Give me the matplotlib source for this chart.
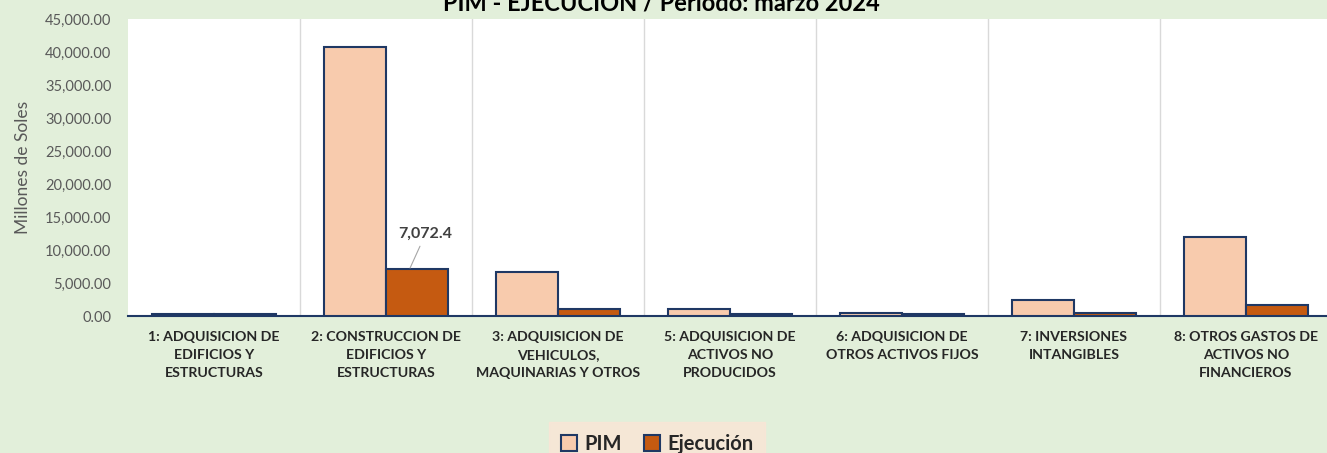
import matplotlib.pyplot as plt
import numpy as np
from matplotlib.patches import Patch

categories = [
    "1: ADQUISICION DE\nEDIFICIOS Y\nESTRUCTURAS",
    "2: CONSTRUCCION DE\nEDIFICIOS Y\nESTRUCTURAS",
    "3: ADQUISICION DE\nVEHICULOS,\nMAQUINARIAS Y OTROS",
    "5: ADQUISICION DE\nACTIVOS NO\nPRODUCIDOS",
    "6: ADQUISICION DE\nOTROS ACTIVOS FIJOS",
    "7: INVERSIONES\nINTANGIBLES",
    "8: OTROS GASTOS DE\nACTIVOS NO\nFINANCIEROS",
]
pim = [350, 40750, 6650, 1100, 450, 2380, 11970]
ejecucion = [300, 7072.4, 1000, 250, 250, 450, 1620]
yticks = [0, 5000, 10000, 15000, 20000, 25000, 30000, 35000, 40000, 45000]

BG = "#E2EFDA"
EDGE = "#1F3864"
plt.rcParams['font.family'] = ['Lato', 'DejaVu Sans']

fig = plt.figure(figsize=(13.27, 4.53), dpi=100, facecolor=BG)
ax = fig.add_axes([128 / 1327, 1 - 316 / 453, 1204 / 1327, 297 / 453])
ax.set_facecolor("white")

x = np.arange(len(categories))
w = 0.36
ax.bar(x - w / 2, pim, w, color="#F8CBAD", edgecolor=EDGE, linewidth=1.5, label="PIM", zorder=3)
ax.bar(x + w / 2, ejecucion, w, color="#C55A11", edgecolor=EDGE, linewidth=1.5, label="Ejecución", zorder=3)

ax.set_xlim(-0.5, len(categories) - 0.5)
ax.set_ylim(0, 45000)
ax.set_yticks(yticks)
ax.set_yticklabels([f"{v:,.2f}" for v in yticks], color="#595959", fontsize=10.5)
ax.set_xticks(x)
ax.set_xticklabels(categories, fontsize=10.2, fontweight="bold", color="#262626", linespacing=1.6)
ax.tick_params(axis="y", length=0, pad=12)
ax.tick_params(axis="x", length=0, pad=11)

# vertical separators between categories
for b in np.arange(0.5, len(categories) - 0.5, 1):
    ax.axvline(b, color="#D9D9D9", linewidth=1, zorder=1)

for s in ["top", "right", "left"]:
    ax.spines[s].set_visible(False)
ax.spines["bottom"].set_color(EDGE)
ax.spines["bottom"].set_linewidth(1.5)

ax.set_ylabel("Millones de Soles", color="#595959", fontsize=12.5, labelpad=10)

# data label for execution of category 2
ax.annotate(f"{ejecucion[1]:,.1f}", xy=(x[1] + w / 2 - 0.04, ejecucion[1] + 200),
            xytext=(x[1] + w / 2 + 0.05, ejecucion[1] + 4300),
            fontsize=11.5, fontweight="bold", color="#404040", ha="center", va="bottom",
            arrowprops=dict(arrowstyle="-", color="#A6A6A6", lw=0.8, shrinkA=2, shrinkB=0))

# title sits partly above the canvas, as in the source image
fig.text(661 / 1327, 1 - 11 / 453, "PIM - EJECUCIÓN / Periodo: marzo 2024", ha="center", va="baseline",
         fontsize=17, fontweight="bold", color="#000000")

handles = [Patch(facecolor="#F8CBAD", edgecolor=EDGE, linewidth=1.5, label="PIM"),
           Patch(facecolor="#C55A11", edgecolor=EDGE, linewidth=1.5, label="Ejecución")]
leg = fig.legend(handles=handles, loc="upper center", bbox_to_anchor=(657 / 1327, 1 - 422 / 453), ncol=2,
                 frameon=True, fancybox=False, handlelength=0.8, handleheight=0.8,
                 handletextpad=0.35, columnspacing=1.1, borderpad=0.6, borderaxespad=0,
                 prop={"weight": "bold", "size": 14.5})
leg.get_frame().set_facecolor("#FBE5D6")
leg.get_frame().set_edgecolor("#FBE5D6")
for t in leg.get_texts():
    t.set_color("#262626")

fig.savefig("out.png", dpi=100, facecolor=BG)
